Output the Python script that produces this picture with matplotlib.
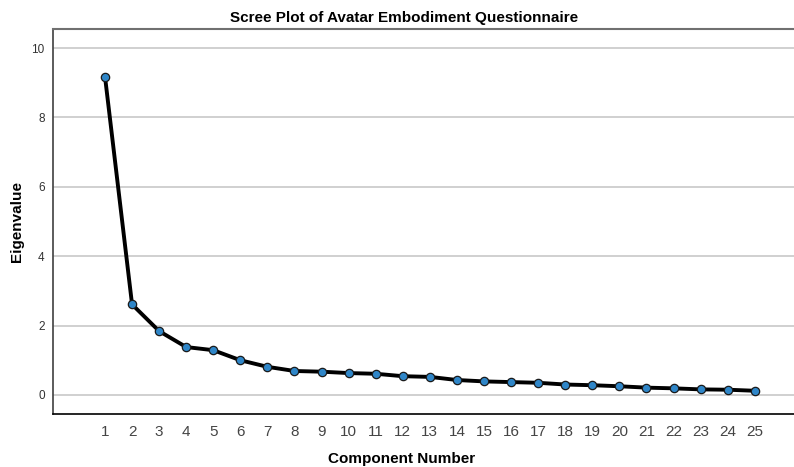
import matplotlib
matplotlib.use("Agg")
import matplotlib.pyplot as plt

plt.rcParams['font.family'] = ['Liberation Sans', 'DejaVu Sans']

components = list(range(1, 26))
eigenvalues = [9.18, 2.61, 1.84, 1.38, 1.29, 1.00, 0.81, 0.69, 0.67, 0.63,
               0.61, 0.54, 0.52, 0.43, 0.39, 0.37, 0.35, 0.30, 0.28, 0.25,
               0.21, 0.19, 0.16, 0.15, 0.12]
y_ticks = [0, 2, 4, 6, 8, 10]

fig = plt.figure(figsize=(7.94, 4.67), dpi=100)
ax = fig.add_axes([53 / 794, 53 / 467, 1 - 53 / 794, (414 - 29) / 467])

ax.set_ylim(-0.55, 10.55)
ax.set_xlim(-0.92, 26.45)

ax.set_yticks(y_ticks)
ax.set_xticks(components)
ax.yaxis.grid(True, color='#c8c8c8', linewidth=1.2)
ax.set_axisbelow(True)

ax.plot(components, eigenvalues, color='black', linewidth=2.8,
        marker='o', markersize=6.0, markerfacecolor='#2f86c8',
        markeredgecolor='#1a1a1a', markeredgewidth=0.9, zorder=3)

ax.spines['right'].set_visible(False)
ax.spines['top'].set_color('#707070')
ax.spines['top'].set_linewidth(1.5)
ax.spines['left'].set_color('#404040')
ax.spines['left'].set_linewidth(1.2)
ax.spines['bottom'].set_color('#000000')
ax.spines['bottom'].set_linewidth(1.2)

ax.tick_params(axis='y', length=0, labelsize=8.5, labelcolor='#333333', pad=6)
ax.tick_params(axis='x', length=0, labelsize=11, labelcolor='#444444', pad=8)

ax.set_title('Scree Plot of Avatar Embodiment Questionnaire',
             fontsize=11, fontweight='bold', pad=5,
             x=(404 - 53) / (794 - 53))
ax.set_ylabel('Eigenvalue', fontsize=11, fontweight='bold')
ax.yaxis.set_label_coords(-(53 - 24) / (794 - 53), 0.5)
ax.set_xlabel('Component Number', fontsize=11, fontweight='bold')
ax.xaxis.set_label_coords((402 - 53) / (794 - 53), -0.1)

fig.savefig('out.png', dpi=100)
